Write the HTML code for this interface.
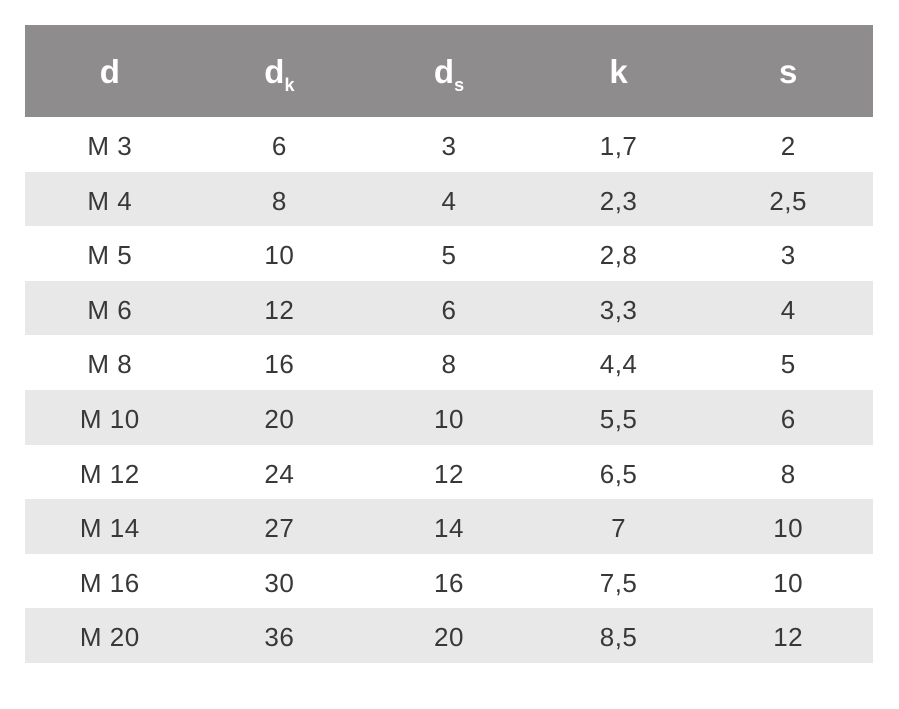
<!DOCTYPE html>
<html><head><style>
body{margin:0;width:899px;height:709px;background:#fff;font-family:"Liberation Sans",Arial,sans-serif;}
.t{position:absolute;left:25px;top:25px;width:848px;}
.h{height:92px;background:#8e8c8d;display:flex;}
.h div{flex:1;text-align:center;color:#fff;font-weight:bold;font-size:33px;line-height:94px;}
.h sub{font-size:18px;vertical-align:-8px;}
.r{height:54.6px;display:flex;}
.r:nth-child(even){background:#e8e8e8;}
.r div{flex:1;text-align:center;color:#383838;font-size:26px;line-height:58px;letter-spacing:0.5px;}
</style></head><body>
<div class="t">
<div class="h"><div>d</div><div>d<sub>k</sub></div><div>d<sub>s</sub></div><div>k</div><div>s</div></div>
<div>
<div class="r"><div>M 3</div><div>6</div><div>3</div><div>1,7</div><div>2</div></div>
<div class="r"><div>M 4</div><div>8</div><div>4</div><div>2,3</div><div>2,5</div></div>
<div class="r"><div>M 5</div><div>10</div><div>5</div><div>2,8</div><div>3</div></div>
<div class="r"><div>M 6</div><div>12</div><div>6</div><div>3,3</div><div>4</div></div>
<div class="r"><div>M 8</div><div>16</div><div>8</div><div>4,4</div><div>5</div></div>
<div class="r"><div>M 10</div><div>20</div><div>10</div><div>5,5</div><div>6</div></div>
<div class="r"><div>M 12</div><div>24</div><div>12</div><div>6,5</div><div>8</div></div>
<div class="r"><div>M 14</div><div>27</div><div>14</div><div>7</div><div>10</div></div>
<div class="r"><div>M 16</div><div>30</div><div>16</div><div>7,5</div><div>10</div></div>
<div class="r"><div>M 20</div><div>36</div><div>20</div><div>8,5</div><div>12</div></div>
</div>
</div>
</body></html>
